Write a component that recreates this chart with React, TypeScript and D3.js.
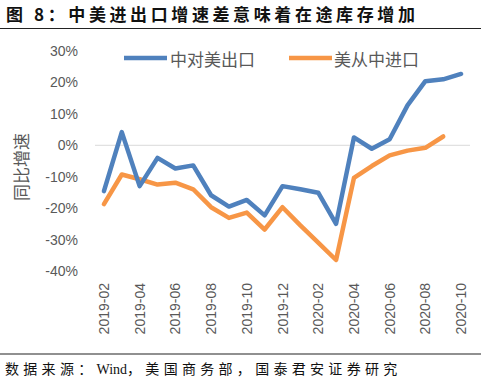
import React from "react";
import * as d3 from "d3";

const months = [
  "2019-02","2019-03","2019-04","2019-05","2019-06","2019-07","2019-08","2019-09","2019-10","2019-11","2019-12",
  "2020-01","2020-02","2020-03","2020-04","2020-05","2020-06","2020-07","2020-08","2020-09","2020-10",
];
const chinaExportsToUS = [
  -14.6, 4.2, -13.0, -4.0, -7.4, -6.4, -15.9, -19.5, -17.4, -22.3, -13.0,
  -14.0, -15.1, -25.0, 2.5, -1.1, 1.9, 12.7, 20.4, 21.0, 22.7,
];
const usImportsFromChina: (number | null)[] = [
  -18.7, -9.3, -10.8, -12.5, -11.9, -14.0, -19.7, -23.1, -21.4, -26.8, -19.7,
  -25.5, -31.0, -36.5, -10.4, -6.6, -3.2, -1.7, -0.8, 2.8, null,
];
const yTicks = [30, 20, 10, 0, -10, -20, -30, -40];
const xTickLabels = ["2019-02","2019-04","2019-06","2019-08","2019-10","2019-12","2020-02","2020-04","2020-06","2020-08","2020-10"];
const seriesNames = ["中对美出口", "美从中进口"];
const title = "图 8：中美进出口增速差意味着在途库存增加";
const sourceParts = ["数据来源：", "Wind", "，美国商务部，国泰君安证券研究"];

const BLUE = "#4f81bd";
const ORANGE = "#f79646";
const GREY = "#595959";

export default function App() {
  const W = 481, H = 379;
  const x = d3.scaleBand<string>().domain(months).range([95, 470]);
  const cx = (m: string) => (x(m) as number) + x.bandwidth() / 2;
  const y = d3.scaleLinear().domain([-40, 30]).range([271, 51]);

  const line = d3
    .line<[string, number | null]>()
    .defined((d) => d[1] !== null)
    .x((d) => cx(d[0]))
    .y((d) => y(d[1] as number));

  const blue = line(months.map((m, i) => [m, chinaExportsToUS[i]]));
  const orange = line(months.map((m, i) => [m, usImportsFromChina[i]]));

  const cjk = "'Noto Sans CJK SC', sans-serif";
  const serif = "'Liberation Serif', 'Noto Sans CJK SC', serif";
  return (
    <svg width={W} height={H} style={{ position: "absolute", left: 0, top: 0, background: "#fff" }}>
      <text x={6} y={21} fontFamily={cjk} fontWeight="bold" fontSize={17} letterSpacing={3.6} fill="#111">
        {title}
      </text>
      <line x1={0} x2={W} y1={28.5} y2={28.5} stroke="#222" strokeWidth={1.2} />

      {/* zero gridline */}
      <line x1={95} x2={470} y1={y(0)} y2={y(0)} stroke="#d9d9d9" strokeWidth={1} />

      {yTicks.map((t) => (
        <text key={t} x={78} y={y(t)} textAnchor="end" dominantBaseline="central"
          fontFamily="'Liberation Sans', Arial, sans-serif" fontSize={14} fill={GREY}>
          {t}%
        </text>
      ))}
      <text transform={`translate(20,167) rotate(-90)`} textAnchor="middle" dominantBaseline="central"
        fontFamily={cjk} fontSize={17} fill={GREY}>
        同比增速
      </text>

      {xTickLabels.map((m) => (
        <text key={m} transform={`translate(${cx(m)},283) rotate(-90)`} textAnchor="end" dominantBaseline="central"
          fontFamily="'Liberation Sans', Arial, sans-serif" fontSize={14} fill={GREY}>
          {m}
        </text>
      ))}

      <path d={orange ?? ""} fill="none" stroke={ORANGE} strokeWidth={4.5} strokeLinejoin="round" strokeLinecap="round" />
      <path d={blue ?? ""} fill="none" stroke={BLUE} strokeWidth={4.5} strokeLinejoin="round" strokeLinecap="round" />

      {/* legend */}
      <line x1={124} x2={167} y1={58} y2={58} stroke={BLUE} strokeWidth={4.5} />
      <text x={170} y={58} dominantBaseline="central" fontFamily={cjk} fontSize={17} fill={GREY}>{seriesNames[0]}</text>
      <line x1={289} x2={332} y1={58} y2={58} stroke={ORANGE} strokeWidth={4.5} />
      <text x={334} y={58} dominantBaseline="central" fontFamily={cjk} fontSize={17} fill={GREY}>{seriesNames[1]}</text>

      <line x1={0} x2={W} y1={354} y2={354} stroke="#222" strokeWidth={1.2} />
      <text x={5} y={374} fontFamily={serif} fontSize={14} fill="#111">
        <tspan letterSpacing={4.3}>{sourceParts[0]}</tspan>
        <tspan letterSpacing={0}>{sourceParts[1]}</tspan>
        <tspan letterSpacing={4.3}>{sourceParts[2]}</tspan>
      </text>
    </svg>
  );
}
